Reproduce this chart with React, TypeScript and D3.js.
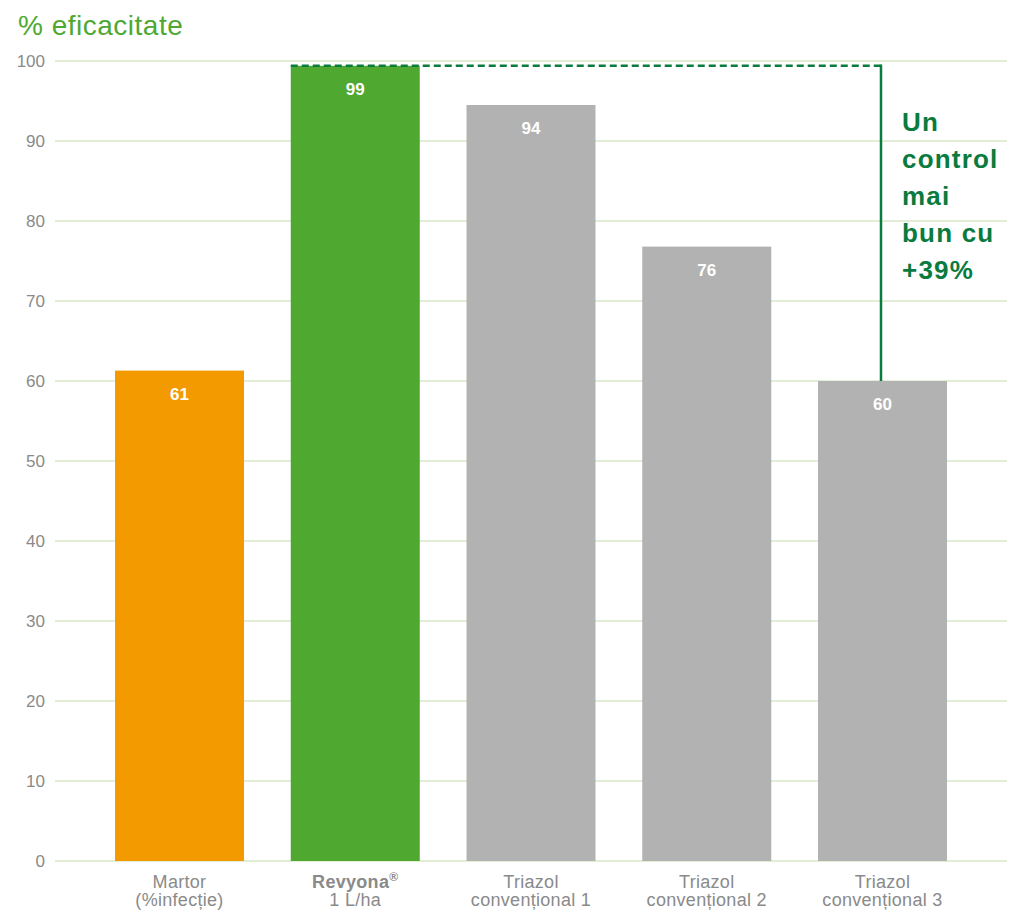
import React from "react";
import * as d3 from "d3";

const categories = ["Martor", "Revyona", "Triazol1", "Triazol2", "Triazol3"];
const labelLine1 = ["Martor", "Revyona", "Triazol", "Triazol", "Triazol"];
const labelLine2 = ["(%infecție)", "1 L/ha", "convențional 1", "convențional 2", "convențional 3"];
const values = [61.3, 99.4, 94.5, 76.8, 60];
const valueLabels = ["61", "99", "94", "76", "60"];
const barColors = ["#f39a00", "#4fa830", "#b2b2b2", "#b2b2b2", "#b2b2b2"];
const yTicks = [0, 10, 20, 30, 40, 50, 60, 70, 80, 90, 100];
const annotationLines = ["Un", "control", "mai", "bun cu", "+39%"];

const W = 1009;
const H = 910;
const FONT = "'Liberation Sans', Arial, Helvetica, sans-serif";

export default function App() {
  const x = d3.scaleBand<string>().domain(categories).range([55, 1007]).paddingInner(0.266).paddingOuter(0.3415);
  const y = d3.scaleLinear().domain([0, 100]).range([861, 61]);
  const bw = x.bandwidth();
  const topVal = values[1];
  const lowVal = values[4];
  const annX = (x("Triazol3") as number) + bw / 2 - 1.5;

  return (
    <svg width={W} height={H} style={{ position: "absolute", left: 0, top: 0, background: "#fff" }} fontFamily={FONT}>
      <text x={18} y={35} fontSize={28} letterSpacing={0.5} fill="#4ea832">% eficacitate</text>
      {yTicks.map((t) => (
        <g key={t}>
          <line x1={55} x2={1007} y1={y(t)} y2={y(t)} stroke="#d9e7c9" strokeWidth={1.5} />
          <text x={45} y={y(t)} dy="0.35em" textAnchor="end" fontSize={17} fill="#8a8a8a">{t}</text>
        </g>
      ))}
      {categories.map((c, i) => {
        const bx = x(c) as number;
        const cx = bx + bw / 2;
        return (
          <g key={c}>
            <rect x={bx} y={y(values[i])} width={bw} height={y(0) - y(values[i])} fill={barColors[i]} />
            <text x={cx} y={y(values[i]) + 29} textAnchor="middle" fontSize={17} fontWeight="bold" fill="#fff">{valueLabels[i]}</text>
            <text x={cx} y={888} textAnchor="middle" fontSize={18} letterSpacing={0.3} fill="#8a8a8a" fontWeight={i === 1 ? "bold" : "normal"}>
              {labelLine1[i]}
              {i === 1 ? <tspan fontSize={12} dy={-7}>®</tspan> : null}
            </text>
            <text x={cx} y={906} textAnchor="middle" fontSize={18} letterSpacing={0.3} fill="#8a8a8a">{labelLine2[i]}</text>
          </g>
        );
      })}
      <line x1={x("Revyona") as number} x2={annX} y1={y(topVal)} y2={y(topVal)} stroke="#0a7b3e" strokeWidth={2.5} strokeDasharray="7 4" />
      <line x1={annX} x2={annX} y1={y(topVal) - 1.25} y2={y(lowVal)} stroke="#0a7b3e" strokeWidth={2.5} />
      {annotationLines.map((l, i) => (
        <text key={i} x={902} y={131 + i * 37} fontSize={26} letterSpacing={1.2} fontWeight="bold" fill="#0a7b3e">{l}</text>
      ))}
    </svg>
  );
}
